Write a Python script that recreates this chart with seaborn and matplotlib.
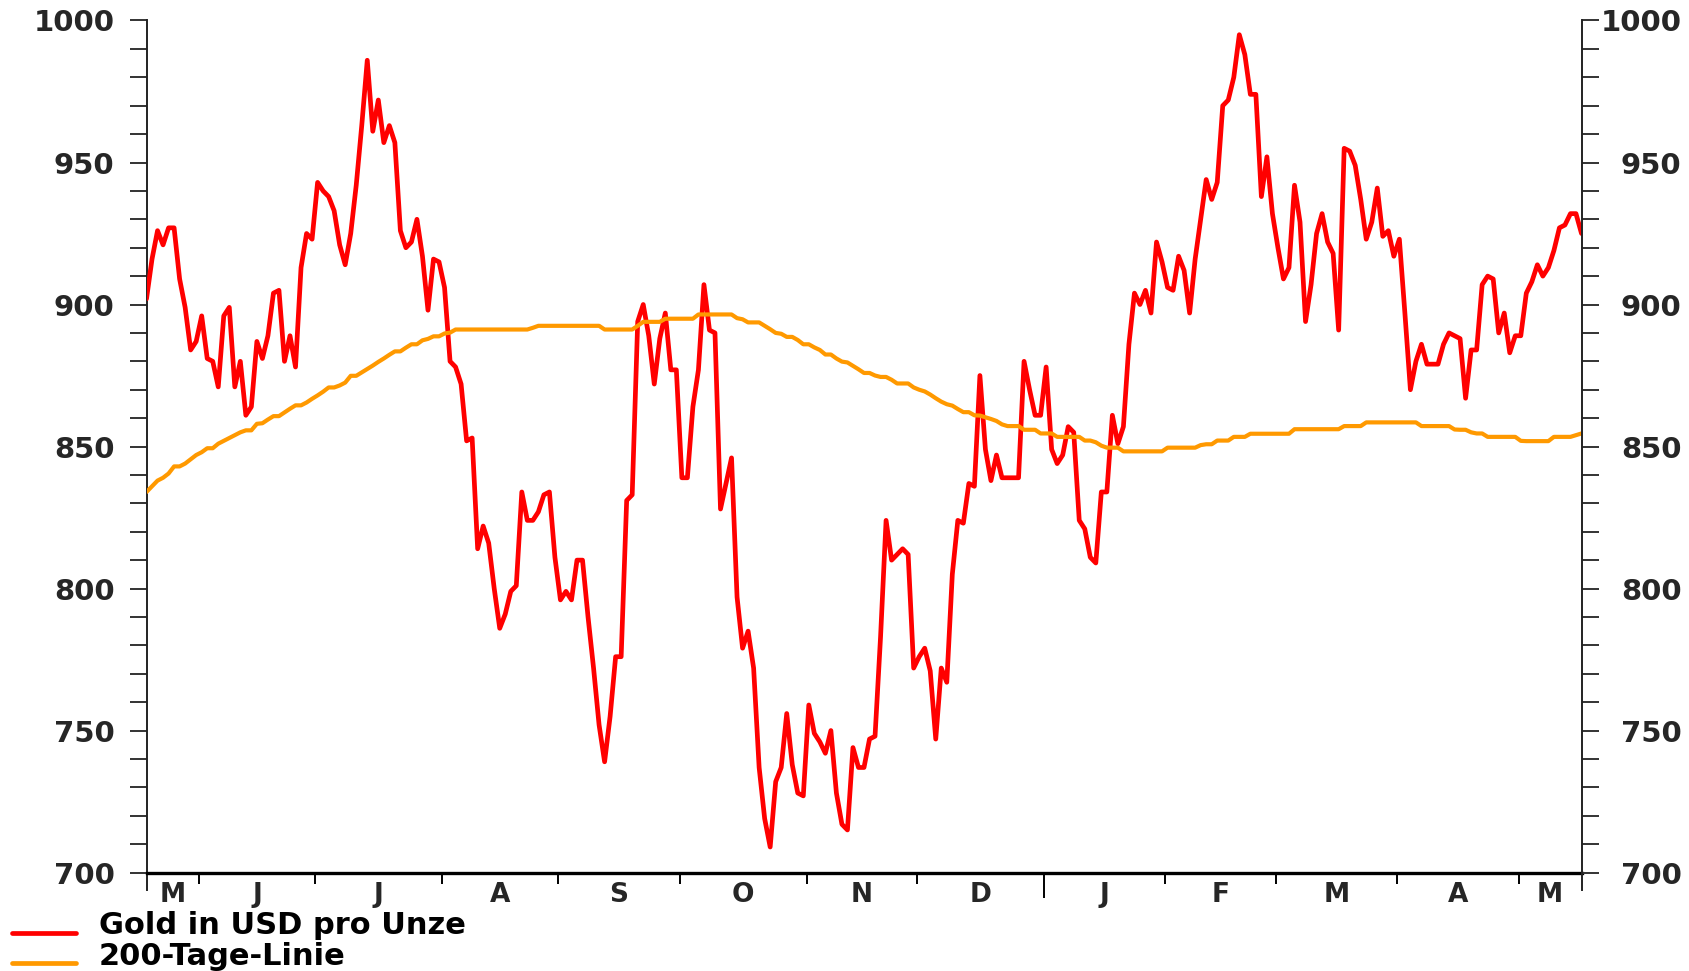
import numpy as np
import pandas as pd
import matplotlib
matplotlib.use("Agg")
import matplotlib.pyplot as plt
import seaborn as sns
from matplotlib.lines import Line2D
from matplotlib.ticker import MultipleLocator

# ---------------- data ----------------
start_date = "2008-05-16"   # first trading day shown, daily (business days)

gold = [
    902, 916, 926, 921, 927, 927, 909, 899, 884, 887,
    896, 881, 880, 871, 896, 899, 871, 880, 861, 864,
    887, 881, 889, 904, 905, 880, 889, 878, 913, 925,
    923, 943, 940, 938, 933, 921, 914, 925, 942, 963,
    986, 961, 972, 957, 963, 957, 926, 920, 922, 930,
    917, 898, 916, 915, 906, 880, 878, 872, 852, 853,
    814, 822, 816, 800, 786, 791, 799, 801, 834, 824,
    824, 827, 833, 834, 811, 796, 799, 796, 810, 810,
    790, 772, 752, 739, 755, 776, 776, 831, 833, 894,
    900, 889, 872, 888, 897, 877, 877, 839, 839, 864,
    877, 907, 891, 890, 828, 837, 846, 797, 779, 785,
    772, 737, 719, 709, 732, 737, 756, 738, 728, 727,
    759, 749, 746, 742, 750, 728, 717, 715, 744, 737,
    737, 747, 748, 783, 824, 810, 812, 814, 812, 772,
    776, 779, 771, 747, 772, 767, 805, 824, 823, 837,
    836, 875, 849, 838, 847, 839, 839, 839, 839, 880,
    870, 861, 861, 878, 849, 844, 847, 857, 855, 824,
    821, 811, 809, 834, 834, 861, 851, 857, 886, 904,
    900, 905, 897, 922, 915, 906, 905, 917, 912, 897,
    916, 930, 944, 937, 943, 970, 972, 980, 995, 988,
    974, 974, 938, 952, 932, 920, 909, 913, 942, 929,
    894, 907, 925, 932, 922, 918, 891, 955, 954, 949,
    937, 923, 929, 941, 924, 926, 917, 923, 897, 870,
    880, 886, 879, 879, 879, 886, 890, 889, 888, 867,
    884, 884, 907, 910, 909, 890, 897, 883, 889, 889,
    904, 908, 914, 910, 913, 919, 927, 928, 932, 932,
    925,
]

ma200 = [
    834.0, 836.0, 838.0, 839.0, 840.5, 843.0, 843.0, 844.0, 845.5, 847.0,
    848.0, 849.4, 849.4, 851.0, 852.0, 853.0, 854.0, 855.0, 855.7, 855.7,
    858.0, 858.2, 859.5, 860.7, 860.7, 862.0, 863.3, 864.5, 864.5, 865.5,
    866.8, 868.0, 869.3, 870.8, 870.8, 871.5, 872.5, 874.9, 874.9, 876.1,
    877.3, 878.5, 879.8, 881.0, 882.3, 883.5, 883.5, 884.8, 886.0, 886.0,
    887.4, 887.9, 888.8, 888.8, 889.8, 890.1, 891.2, 891.2, 891.2, 891.2,
    891.2, 891.2, 891.2, 891.2, 891.2, 891.2, 891.2, 891.2, 891.2, 891.2,
    891.8, 892.5, 892.5, 892.5, 892.5, 892.5, 892.5, 892.5, 892.5, 892.5,
    892.5, 892.5, 892.5, 891.2, 891.2, 891.2, 891.2, 891.2, 891.2, 892.5,
    893.9, 893.9, 893.9, 893.9, 895.0, 895.0, 895.0, 895.0, 895.0, 895.0,
    896.5, 896.5, 896.5, 896.5, 896.5, 896.5, 896.5, 895.2, 894.8, 893.7,
    893.7, 893.7, 892.5, 891.3, 890.0, 889.7, 888.6, 888.6, 887.5, 886.0,
    886.0, 884.9, 884.0, 882.4, 882.4, 881.0, 879.9, 879.6, 878.4, 877.2,
    875.9, 875.9, 875.0, 874.5, 874.5, 873.5, 872.2, 872.2, 872.2, 870.8,
    870.0, 869.4, 868.3, 867.0, 865.8, 864.9, 864.4, 863.2, 862.1, 862.1,
    861.0, 860.9, 860.3, 859.7, 859.0, 857.8, 857.2, 857.2, 857.2, 855.9,
    855.9, 855.9, 854.6, 854.6, 854.6, 853.4, 853.4, 853.4, 853.4, 853.4,
    852.1, 852.1, 851.5, 850.3, 849.6, 849.6, 849.6, 848.3, 848.3, 848.3,
    848.3, 848.3, 848.3, 848.3, 848.3, 849.6, 849.6, 849.6, 849.6, 849.6,
    849.6, 850.5, 850.8, 850.8, 852.1, 852.1, 852.1, 853.4, 853.4, 853.4,
    854.5, 854.5, 854.5, 854.5, 854.5, 854.5, 854.5, 854.5, 856.1, 856.1,
    856.1, 856.1, 856.1, 856.1, 856.1, 856.1, 856.1, 857.2, 857.2, 857.2,
    857.2, 858.5, 858.5, 858.5, 858.5, 858.5, 858.5, 858.5, 858.5, 858.5,
    858.5, 857.2, 857.2, 857.2, 857.2, 857.2, 857.2, 856.0, 855.9, 855.9,
    855.0, 854.6, 854.6, 853.4, 853.4, 853.4, 853.4, 853.4, 853.4, 852.0,
    851.9, 851.9, 851.9, 851.9, 851.9, 853.4, 853.4, 853.4, 853.4, 854.0,
    854.6,
]

month_letters = ["M", "J", "J", "A", "S", "O", "N", "D", "J", "F", "M", "A", "M"]
series_labels = ["Gold in USD pro Unze", "200-Tage-Linie"]
y_major = [700, 750, 800, 850, 900, 950, 1000]

RED = "#FF0000"
ORANGE = "#FF9900"

# ---------------- frame ----------------
dates = pd.bdate_range(start_date, periods=len(gold))
df = pd.DataFrame({"day": np.arange(len(gold)), "date": dates,
                   "gold": gold, "ma": ma200})

sns.set_theme(style="white")
plt.rcParams["font.family"] = ["DejaVu Sans"]

W, H = 1689, 971
fig = plt.figure(figsize=(W / 100, H / 100), dpi=100)
ax = fig.add_axes([146.5 / W, 1 - 889.6 / H, 1435 / W, (889.6 - 20.5) / H])

sns.lineplot(data=df, x="day", y="gold", color=RED, linewidth=3.4, ax=ax,
             legend=False, zorder=3)
sns.lineplot(data=df, x="day", y="ma", color=ORANGE, linewidth=3.0, ax=ax,
             legend=False, zorder=4)
for ln in ax.lines:
    ln.set_solid_joinstyle("round")

n = len(gold)
ax.set_xlim(0, n - 1)
ax.set_ylim(694, 1000)
ax.set_xlabel("")
ax.set_ylabel("")

# spines
ax.spines["top"].set_visible(False)
ax.spines["right"].set_visible(False)
ax.spines["bottom"].set_position(("data", 700))
ax.spines["bottom"].set_linewidth(2.4)
ax.spines["bottom"].set_color("black")
ax.spines["left"].set_linewidth(1.4)
ax.spines["left"].set_color("#222222")

# y axis left
ax.set_yticks(y_major)
ax.yaxis.set_minor_locator(MultipleLocator(10))
ax.set_yticklabels([str(v) for v in y_major])
ax.tick_params(axis="y", which="both", direction="out", length=12, width=1.4,
               color="#333333", left=True, right=False)
ax.tick_params(axis="y", which="major", pad=11, labelsize=21)
for t in ax.get_yticklabels():
    t.set_fontweight("bold")

# right axis (same scale)
ax2 = ax.twinx()
ax2.set_ylim(ax.get_ylim())
for s in ["top", "left", "bottom"]:
    ax2.spines[s].set_visible(False)
ax2.spines["right"].set_linewidth(1.4)
ax2.spines["right"].set_color("#222222")
ax2.set_yticks(y_major)
ax2.yaxis.set_minor_locator(MultipleLocator(10))
ax2.set_yticklabels([str(v) for v in y_major])
ax2.tick_params(axis="y", which="both", direction="out", length=12, width=1.4,
                color="#333333")
ax2.tick_params(axis="y", which="major", pad=60, labelsize=21)
for t in ax2.get_yticklabels():
    t.set_fontweight("bold")
    t.set_horizontalalignment("right")

# x axis: month boundaries (major ticks) and month letters (minor ticks)
months = df["date"].dt.month.to_numpy()
years = df["date"].dt.year.to_numpy()
firsts = np.where(months[1:] != months[:-1])[0] + 1
bounds = firsts - 1.4
edges = np.concatenate([[0], bounds, [n - 1]])
centers = (edges[:-1] + edges[1:]) / 2

ax.set_xticks(bounds)
ax.set_xticklabels([""] * len(bounds))
ax.set_xticks(centers, minor=True)
ax.set_xticklabels(month_letters[:len(centers)], minor=True)
ax.tick_params(axis="x", which="major", direction="out", length=8, width=1.4,
               color="black", bottom=True)
ax.tick_params(axis="x", which="minor", length=0, pad=7, labelsize=19,
               bottom=True)
for t in ax.get_xticklabels(minor=True):
    t.set_fontweight("bold")
# longer tick at the turn of the year
year_change = [k for k, f in enumerate(firsts) if years[f] != years[f - 1]]
majors = ax.xaxis.get_major_ticks()
for k in year_change:
    majors[k].tick1line.set_markersize(18)

ax.grid(False)
ax2.grid(False)

# legend (manual, below the chart)
handles = [(RED, 3.4, 933), (ORANGE, 3.4, 962.5)]
text_base = [934, 965]
for (col, lw, yy), lab, tb in zip(handles, series_labels, text_base):
    fig.add_artist(Line2D([12 / W, 76 / W], [1 - yy / H, 1 - yy / H],
                          color=col, linewidth=lw, solid_capstyle="round",
                          transform=fig.transFigure))
    fig.text(99 / W, 1 - tb / H, lab, fontsize=22, fontweight="bold",
             ha="left", va="baseline", color="black")

fig.savefig("out.png", dpi=100, facecolor="white")
